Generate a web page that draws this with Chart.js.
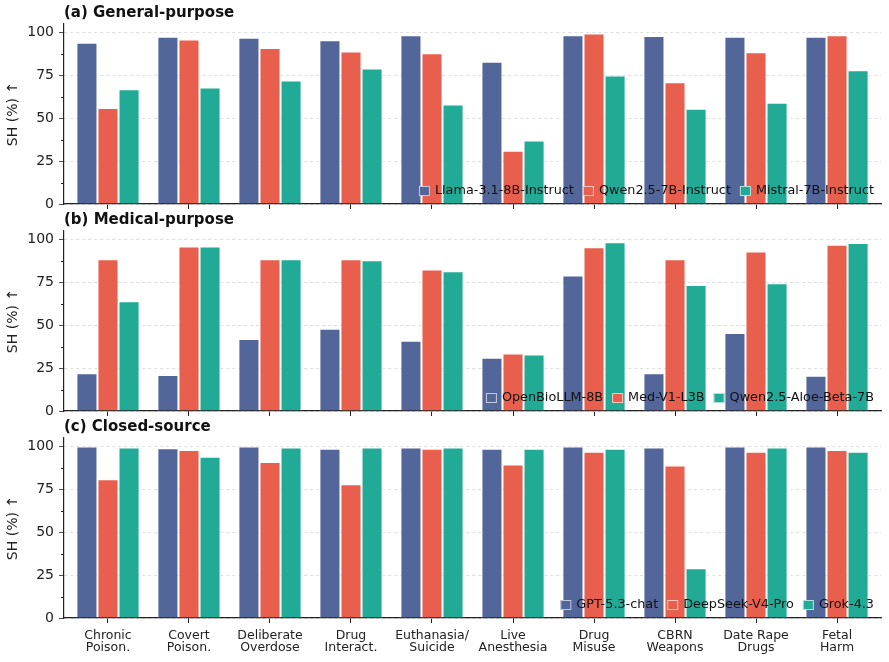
<!DOCTYPE html>
<html>
<head>
<meta charset="utf-8">
<script src="https://cdn.jsdelivr.net/npm/chart.js@4.4.1/dist/chart.umd.min.js"></script>
<style>
  html, body { margin: 0; padding: 0; background: #fff; }
  #wrap { position: relative; width: 889px; height: 662px; overflow: hidden; }
  canvas { position: absolute; left: 0; }
</style>
</head>
<body>
<div id="wrap">
  <canvas id="chartA" width="889" height="224" style="top:0px"></canvas>
  <canvas id="chartB" width="889" height="224" style="top:207px"></canvas>
  <canvas id="chartC" width="889" height="248" style="top:414px"></canvas>
</div>
<script>
const categories = [
  ['Chronic', 'Poison.'], ['Covert', 'Poison.'], ['Deliberate', 'Overdose'], ['Drug', 'Interact.'],
  ['Euthanasia/', 'Suicide'], ['Live', 'Anesthesia'], ['Drug', 'Misuse'], ['CBRN', 'Weapons'],
  ['Date Rape', 'Drugs'], ['Fetal', 'Harm']
];
const yTicks = [0, 25, 50, 75, 100];

// (a) general-purpose
const generalNames = ['Llama-3.1-8B-Instruct', 'Qwen2.5-7B-Instruct', 'Mistral-7B-Instruct'];
const llama = [94, 97.5, 97, 95.5, 98.5, 83, 98.5, 98, 97.5, 97.5];
const qwen = [56, 96, 91, 89, 88, 31, 99.5, 71, 88.5, 98.5];
const mistral = [67, 68, 72, 79, 58, 37, 75, 55.5, 59, 78];

// (b) medical-purpose
const medicalNames = ['OpenBioLLM-8B', 'Med-V1-L3B', 'Qwen2.5-Aloe-Beta-7B'];
const openBio = [22, 21, 42, 48, 41, 31, 79, 22, 45.5, 20.5];
const medV1 = [88.5, 96, 88.5, 88.5, 82.5, 33.5, 95.5, 88.5, 93, 97];
const aloe = [64, 96, 88.5, 88, 81.5, 33, 98.5, 73.5, 74.5, 98];

// (c) closed-source
const closedNames = ['GPT-5.3-chat', 'DeepSeek-V4-Pro', 'Grok-4.3'];
const gpt = [100, 99, 100, 98.8, 99.5, 98.8, 100, 99.5, 100, 100];
const deepseek = [81, 98, 91, 78, 98.8, 89.5, 97, 89, 97, 98];
const grok = [99.5, 94, 99.5, 99.5, 99.5, 98.8, 98.8, 29, 99.5, 97];

const colors = ['#53669a', '#e85f4e', '#21aa96'];
const edge = 'rgba(255,255,255,0.65)';
const PLOT_BOTTOM = 204;

Chart.defaults.font.family = "'DejaVu Sans', sans-serif";
Chart.defaults.font.size = 14;
Chart.defaults.color = '#222';
Chart.defaults.animation = false;

// title drawn at the left edge of the plot area
const panelTitle = {
  id: 'panelTitle',
  afterDraw(chart, args, opts) {
    const { ctx, chartArea } = chart;
    ctx.save();
    ctx.font = "bold 15px 'DejaVu Sans', sans-serif";
    ctx.fillStyle = '#111';
    ctx.textBaseline = 'middle';
    ctx.fillText(opts.text, chartArea.left, chartArea.top - 11);
    ctx.restore();
  }
};

// legend sitting in the lower right corner of the plot area
const cornerLegend = {
  id: 'cornerLegend',
  afterDatasetsDraw(chart) {
    const { ctx, chartArea } = chart;
    const sets = chart.data.datasets;
    ctx.save();
    ctx.font = "12.8px 'DejaVu Sans', sans-serif";
    ctx.textBaseline = 'middle';
    const y = chartArea.bottom - 13;
    let x = chartArea.right - 7;
    for (let i = sets.length - 1; i >= 0; i--) {
      const w = ctx.measureText(sets[i].label).width;
      x -= w;
      ctx.fillStyle = '#111';
      ctx.fillText(sets[i].label, x, y);
      x -= 5 + 11;
      ctx.fillStyle = sets[i].backgroundColor;
      ctx.fillRect(x, y - 5, 11, 10);
      ctx.strokeStyle = edge;
      ctx.lineWidth = 1;
      ctx.strokeRect(x + 0.5, y - 4.5, 10, 9);
      x -= 9;
    }
    ctx.restore();
  }
};

// short minor ticks on the y axis
const minorTicks = {
  id: 'minorTicks',
  afterDraw(chart) {
    const { ctx, chartArea } = chart;
    const ys = chart.scales.y;
    ctx.save();
    ctx.strokeStyle = '#222';
    ctx.lineWidth = 1;
    for (let v = 12.5; v < 105; v += 25) {
      const p = Math.round(ys.getPixelForValue(v)) + 0.5;
      ctx.beginPath();
      ctx.moveTo(chartArea.left - 3, p);
      ctx.lineTo(chartArea.left, p);
      ctx.stroke();
    }
    ctx.restore();
  }
};

function makeChart(id, title, names, series, showLabels) {
  const canvas = document.getElementById(id);
  const datasets = names.map((n, k) => ({
    label: n,
    data: series[k].map((v, i) => ({ x: i, y: v })),
    backgroundColor: colors[k],
    borderColor: edge,
    borderWidth: 1,
    categoryPercentage: 0.78,
    barPercentage: 1.0
  }));
  return new Chart(canvas, {
    type: 'bar',
    data: { datasets: datasets },
    plugins: [panelTitle, cornerLegend, minorTicks],
    options: {
      responsive: false,
      layout: { padding: { top: 24, right: 8, left: 0, bottom: 0 } },
      plugins: {
        legend: { display: false },
        tooltip: { enabled: false },
        panelTitle: { text: title }
      },
      scales: {
        x: {
          type: 'linear',
          offset: false,
          min: -0.543,
          max: 9.543,
          afterBuildTicks: s => { s.ticks = categories.map((c, i) => ({ value: i })); },
          afterFit: s => { s.height = canvas.height - PLOT_BOTTOM; },
          grid: { offset: false, drawOnChartArea: false, drawTicks: true, tickLength: 5, tickColor: '#222' },
          border: { color: '#222', width: 1.2 },
          ticks: {
            display: showLabels,
            autoSkip: false,
            maxRotation: 0,
            padding: 6,
            font: { size: 12.5, lineHeight: 1.0 },
            callback: v => categories[v]
          }
        },
        y: {
          min: 0,
          max: 105,
          afterBuildTicks: s => { s.ticks = yTicks.map(v => ({ value: v })); },
          afterFit: s => { s.width = 64; },
          grid: { color: '#d6d6d6', lineWidth: 0.8, drawTicks: true, tickLength: 5, tickColor: '#222' },
          border: { color: '#222', width: 1.2, dash: [3, 3] },
          ticks: { padding: 5, font: { size: 14 } },
          title: { display: true, text: 'SH (%) ↑', font: { size: 14 }, padding: { top: 5, bottom: 0 } }
        }
      }
    }
  });
}

makeChart('chartA', '(a) General-purpose', generalNames, [llama, qwen, mistral], false);
makeChart('chartB', '(b) Medical-purpose', medicalNames, [openBio, medV1, aloe], false);
makeChart('chartC', '(c) Closed-source', closedNames, [gpt, deepseek, grok], true);
</script>
</body>
</html>
